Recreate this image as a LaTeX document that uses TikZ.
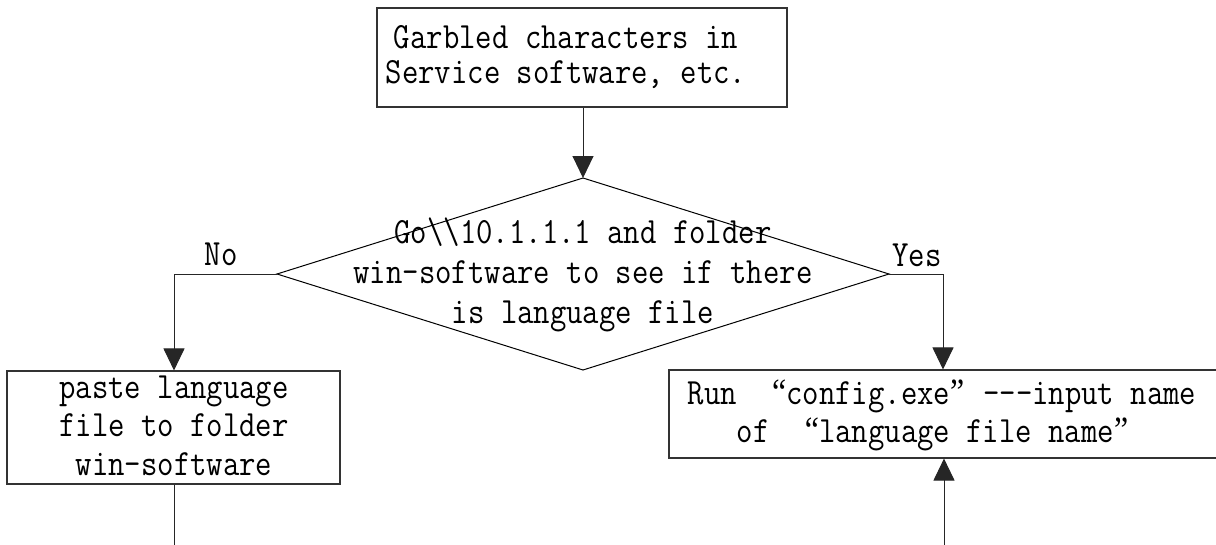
\documentclass[tikz,border=0pt]{standalone}
\usepackage{fontspec}
\usepackage{graphicx}
\usetikzlibrary{arrows.meta}
\newfontfamily\quotefam{Liberation Serif}
\newcommand\myoq{\makebox[19.4pt][r]{\quotefam “}}
\newcommand\mycq{\makebox[19.4pt][l]{\quotefam ”}}
\newcommand\fctext[3][c]{{\fontsize{37}{#2}\selectfont\ttfamily\scalebox{0.86}[1]{\begin{tabular}{@{}#1@{}}#3\end{tabular}}}}
\begin{document}
\begin{tikzpicture}[x=1pt,y=-1pt,
  boxshape/.style={draw=black!80, line width=1.1pt, inner sep=0pt},
  txt/.style={inner sep=0pt, outer sep=0pt},
  lbl/.style={inner sep=0pt, anchor=base, font=\fontsize{37}{38}\selectfont\ttfamily},
  conn/.style={draw=black!85, line width=1pt},
  arr/.style={conn, -{Triangle[length=22pt,width=21pt]}}]
\useasboundingbox (0,0) rectangle (1216,544);
\clip (0,0) rectangle (1216,544);

% boxes
\node[boxshape, minimum width=410pt, minimum height=99pt] (top) at (582,57.5) {};
\node[txt] (toptext) at (566,58.5) {\fctext{35}{Garbled characters in\\Service software, etc.}};

\node[boxshape, minimum width=333pt, minimum height=113pt] (left) at (173.5,427.5) {};
\node[txt] (lefttext) at (174,428.8) {\fctext{38.5}{paste language\\file to folder\\win-software}};

\node[boxshape, minimum width=552pt, minimum height=88pt] (right) at (945,414) {};
\node[txt] (righttext) at (942,416) {\fctext[l]{38}{Run\ \ \myoq config.exe\mycq\ -{}-{}-input name\\\ \ \ of\ \ \myoq language file name\mycq}};

% diamond
\coordinate (dT) at (583,178);
\coordinate (dB) at (583,370);
\coordinate (dL) at (277,274);
\coordinate (dR) at (889,274);
\draw[line width=1pt] (dT) -- (dR) -- (dB) -- (dL) -- cycle;
\node[txt] (dtext) at (583,275) {\fctext{40}{Go\textbackslash\textbackslash 10.1.1.1 and folder\\win-software to see if there\\is language file}};

% labels
\node[lbl] (no) at (221,265) {\scalebox{0.86}[1]{No}};
\node[lbl] (yes) at (917,266) {\scalebox{0.86}[1]{Yes}};

% connectors
\draw[arr] (top.south -| dT) -- (dT);
\coordinate (nocorner) at (174,274);
\coordinate (yescorner) at (943,274);
\draw[arr] (dL) -- (nocorner) -- (nocorner |- left.north);
\draw[arr] (dR) -- (yescorner) -- (yescorner |- right.north);
\coordinate (leftend) at (174,548);
\draw[conn] (left.south -| leftend) -- (leftend);
\coordinate (rightstart) at (944,548);
\draw[arr] (rightstart) -- (rightstart |- right.south);
\end{tikzpicture}
\end{document}
